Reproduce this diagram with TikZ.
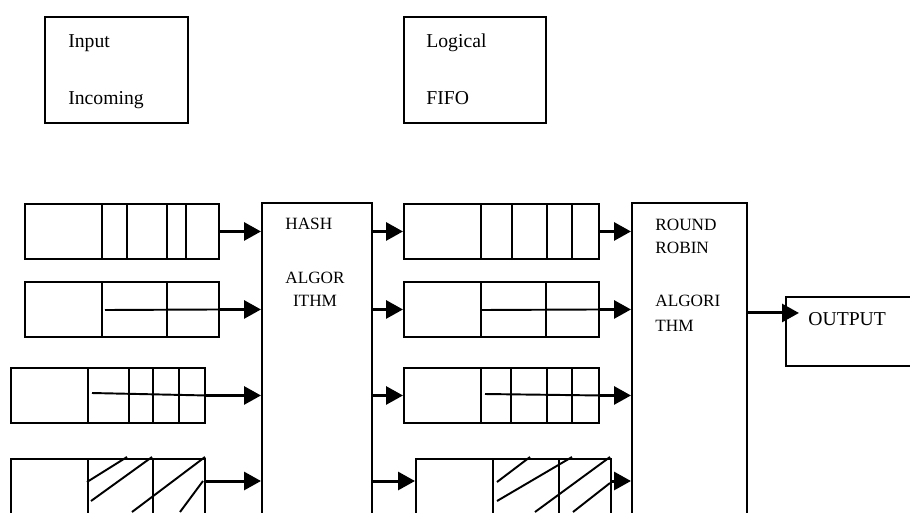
\documentclass[tikz,border=0pt]{standalone}
\usepackage{fontspec}
\setmainfont{Liberation Serif}
\usetikzlibrary{positioning, arrows.meta, calc}

\begin{document}
\begin{tikzpicture}[x=0.02cm, y=-0.02cm, >={Triangle[length=0.34cm, width=0.36cm]},
		box/.style={draw, line width=1.1pt, rectangle, inner sep=0pt, anchor=north west},
		lbl/.style={inner sep=0pt, anchor=base west, font=\fontsize{11.2}{13}\selectfont},
		small/.style={inner sep=0pt, anchor=base west, font=\fontsize{9.8}{12}\selectfont},
		arr/.style={->, line width=1.7pt},
		bar/.style={line width=1.1pt}]
			\useasboundingbox (0,0) rectangle (910,512);
			\clip (0,0) rectangle (910,512);
			\node (inbox) [box, minimum width=2.86cm, minimum height=2.12cm] at (44,16) {};
			\node (fifobox) [box, minimum width=2.84cm, minimum height=2.12cm] at (403,16) {};
			\node[lbl] (tin) at (68,47.5) {Input};
			\node[lbl] (tinc) at (68,104.5) {Incoming};
			\node[lbl] (tlog) at (426,47.5) {Logical};
			\node[lbl] (tfifo) at (426,104.5) {FIFO};
			\node (q1) [box, minimum width=3.88cm, minimum height=1.1cm] at (24,203) {};
			\node (q2) [box, minimum width=3.88cm, minimum height=1.1cm] at (24,281) {};
			\node (q3) [box, minimum width=3.88cm, minimum height=1.1cm] at (10,367) {};
			\node (q4) [box, minimum width=3.88cm, minimum height=1.6cm] at (10,458) {};
			\node (hash) [box, minimum width=2.2cm, minimum height=8cm] at (261,202) {};
			\node (f1) [box, minimum width=3.9cm, minimum height=1.1cm] at (403,203) {};
			\node (f2) [box, minimum width=3.9cm, minimum height=1.1cm] at (403,281) {};
			\node (f3) [box, minimum width=3.9cm, minimum height=1.1cm] at (403,367) {};
			\node (f4) [box, minimum width=3.9cm, minimum height=1.6cm] at (415,458) {};
			\node (rr) [box, minimum width=2.3cm, minimum height=8cm] at (631,202) {};
			\node (out) [box, minimum width=4cm, minimum height=1.38cm] at (785,296) {};
			\node[small] (thash) at (285,229.7) {HASH};
			\node[small, anchor=base] (talg) at (315,283) {ALGOR};
			\node[small, anchor=base] (tith) at (315,306) {ITHM};
			\node[small] (tround) at (655,230) {ROUND};
			\node[small] (trobin) at (655,253) {ROBIN};
			\node[small] (talgori) at (655,306) {ALGORI};
			\node[small] (tthm) at (655,331) {THM};
			\node[lbl] (tout) at (808,325.5) {OUTPUT};
			\foreach \d in {102,127,167,186} \draw[bar] (\d,0 |- q1.north) -- (\d,0 |- q1.south);
			\foreach \d in {102,167} \draw[bar] (\d,0 |- q2.north) -- (\d,0 |- q2.south);
			\foreach \d in {88,129,153,179} \draw[bar] (\d,0 |- q3.north) -- (\d,0 |- q3.south);
			\foreach \d in {88,153} \draw[bar] (\d,0 |- q4.north) -- (\d,0 |- q4.south);
			\foreach \d in {481,512,547,572} \draw[bar] (\d,0 |- f1.north) -- (\d,0 |- f1.south);
			\foreach \d in {481,546} \draw[bar] (\d,0 |- f2.north) -- (\d,0 |- f2.south);
			\foreach \d in {481,511,547,572} \draw[bar] (\d,0 |- f3.north) -- (\d,0 |- f3.south);
			\foreach \d in {493,559} \draw[bar] (\d,0 |- f4.north) -- (\d,0 |- f4.south);
			\draw[bar] (105,310) -- (q2.east);
			\draw[bar] (92,393) -- (q3.east);
			\draw[bar] (481,310) -- (f2.east);
			\draw[bar] (485,394) -- (f3.east);
			\draw[bar] (87,482) -- (127,457);
			\draw[bar] (91,501) -- (152,457);
			\draw[bar] (132,512) -- (205,457);
			\draw[bar] (180,512) -- (203,481);
			\draw[bar] (497,482) -- (530,457);
			\draw[bar] (497,501) -- (572,457);
			\draw[bar] (535,512) -- (610,457);
			\draw[bar] (573,512) -- (610,483);
			\coordinate (q4out) at ([yshift=-0.46cm]q4.north east);
			\coordinate (f4in) at ([yshift=-0.46cm]f4.north west);
			\coordinate (f4out) at ([yshift=-0.46cm]f4.north east);
			\coordinate (outin) at ([xshift=0.28cm, yshift=0.37cm]out.west);
			\draw[arr] (q1.east) -- (q1.east -| hash.west);
			\draw[arr] (q2.east) -- (q2.east -| hash.west);
			\draw[arr] (q3.east) -- (q3.east -| hash.west);
			\draw[arr] (q4out) -- (q4out -| hash.west);
			\draw[arr] (f1.west -| hash.east) -- (f1.west);
			\draw[arr] (f2.west -| hash.east) -- (f2.west);
			\draw[arr] (f3.west -| hash.east) -- (f3.west);
			\draw[arr] (f4in -| hash.east) -- (f4in);
			\draw[arr] (f1.east) -- (f1.east -| rr.west);
			\draw[arr] (f2.east) -- (f2.east -| rr.west);
			\draw[arr] (f3.east) -- (f3.east -| rr.west);
			\draw[arr] (f4out) -- (f4out -| rr.west);
			\draw[arr] (outin -| rr.east) -- (outin);
		\end{tikzpicture}
\end{document}
